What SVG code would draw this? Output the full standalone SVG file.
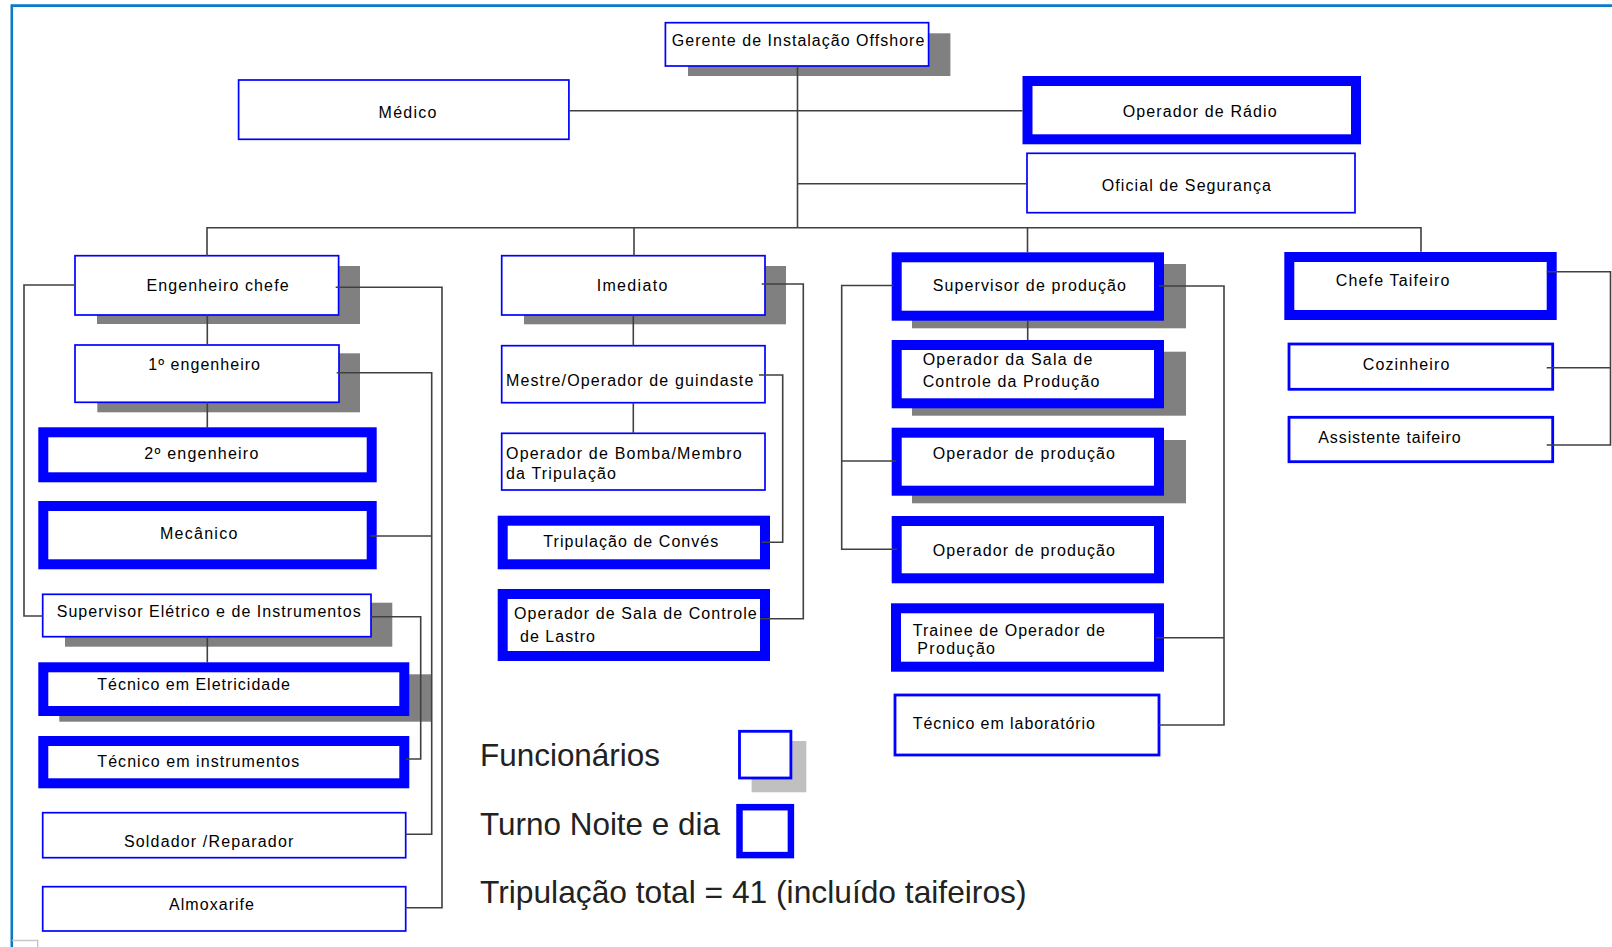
<svg xmlns="http://www.w3.org/2000/svg" width="1612" height="947" viewBox="0 0 1612 947">
<style>
.bg{fill:#ffffff}
.frame{fill:none;stroke:#0a7bc6;stroke-width:2.6}
.thin{fill:#ffffff;stroke:#0000ff;stroke-width:1.7}
.mid{fill:#ffffff;stroke:#0000ff;stroke-width:2.8}
.thick{fill:#ffffff;stroke:#0000ff;stroke-width:10}
.shadow{fill:#808080}
.lshadow{fill:#c0c0c0}
.lbl{font-family:"Liberation Sans",Arial,sans-serif;font-size:16px;fill:#000000}
.leg{font-family:"Liberation Sans",Arial,sans-serif;font-size:31.5px;fill:#222222}
.conn{fill:none;stroke:#404040;stroke-width:1.6}
</style>
<rect class="bg" x="0" y="0" width="1612" height="947"/>
<path class="frame" d="M11.8,947 V5.6 H1612"/>
<path d="M12,940.5 H37.7 V947" fill="none" stroke="#c8c8c8" stroke-width="1.5"/>

<g id="gerente">
<rect class="shadow" x="688" y="33.3" width="262.4" height="42.7"/>
<rect class="thin" x="665.4" y="22.7" width="263.2" height="43.3"/>
<text class="lbl" x="671.8" y="45.5" textLength="252.5" lengthAdjust="spacing">Gerente de Instalação Offshore</text>
</g>
<g id="medico">
<rect class="thin" x="238.6" y="80" width="330.3" height="59.3"/>
<text class="lbl" x="378.6" y="117.5" textLength="57.8" lengthAdjust="spacing">Médico</text>
</g>
<g id="operador-radio">
<rect class="thick" x="1027.5" y="81" width="328.5" height="58.3"/>
<text class="lbl" x="1122.7" y="117.2" textLength="154" lengthAdjust="spacing">Operador de Rádio</text>
</g>
<g id="oficial-seguranca">
<rect class="thin" x="1027" y="153.3" width="328" height="59.4"/>
<text class="lbl" x="1101.7" y="190.5" textLength="169.3" lengthAdjust="spacing">Oficial de Segurança</text>
</g>

<g id="engenheiro-chefe">
<rect class="shadow" x="97" y="266" width="263" height="58"/>
<rect class="thin" x="75" y="255.7" width="263.6" height="59.3"/>
<text class="lbl" x="146.4" y="290.5" textLength="142.2" lengthAdjust="spacing">Engenheiro chefe</text>
</g>
<g id="primeiro-engenheiro">
<rect class="shadow" x="97.3" y="353.3" width="262.7" height="59"/>
<rect class="thin" x="75" y="345" width="264" height="57.3"/>
<text class="lbl" x="148.3" y="369.5" textLength="111.7" lengthAdjust="spacing">1º engenheiro</text>
</g>
<g id="segundo-engenheiro">
<rect class="thick" x="43.3" y="432.3" width="328.4" height="45"/>
<text class="lbl" x="144.3" y="458.8" textLength="114" lengthAdjust="spacing">2º engenheiro</text>
</g>
<g id="mecanico">
<rect class="thick" x="43.3" y="506" width="328.4" height="58.3"/>
<text class="lbl" x="160" y="538.8" textLength="77.3" lengthAdjust="spacing">Mecânico</text>
</g>
<g id="supervisor-eletrico">
<rect class="shadow" x="65" y="602.7" width="327.3" height="44"/>
<rect class="thin" x="42.7" y="594.3" width="328.3" height="42.4"/>
<text class="lbl" x="56.7" y="616.5" textLength="304" lengthAdjust="spacing">Supervisor Elétrico e de Instrumentos</text>
</g>
<g id="tecnico-eletricidade">
<rect class="shadow" x="59.3" y="674.3" width="372.4" height="47.4"/>
<rect class="thick" x="43.3" y="667.3" width="361" height="43.7"/>
<text class="lbl" x="97.3" y="689.8" textLength="192.7" lengthAdjust="spacing">Técnico em Eletricidade</text>
</g>
<g id="tecnico-instrumentos">
<rect class="thick" x="43.3" y="741" width="361" height="42.3"/>
<text class="lbl" x="97.3" y="767.2" textLength="202" lengthAdjust="spacing">Técnico em instrumentos</text>
</g>
<g id="soldador">
<rect class="thin" x="42.7" y="812.7" width="363" height="45"/>
<text class="lbl" x="124" y="847.2" textLength="169.3" lengthAdjust="spacing">Soldador /Reparador</text>
</g>
<g id="almoxarife">
<rect class="thin" x="42.7" y="886.7" width="363" height="44.3"/>
<text class="lbl" x="169" y="909.8" textLength="85" lengthAdjust="spacing">Almoxarife</text>
</g>

<g id="imediato">
<rect class="shadow" x="524" y="266" width="262" height="58.3"/>
<rect class="thin" x="501.7" y="255.7" width="263.3" height="59.3"/>
<text class="lbl" x="596.7" y="290.5" textLength="70.6" lengthAdjust="spacing">Imediato</text>
</g>
<g id="mestre-guindaste">
<rect class="thin" x="501.7" y="345.7" width="263.3" height="57"/>
<text class="lbl" x="506" y="385.5" textLength="247.3" lengthAdjust="spacing">Mestre/Operador de guindaste</text>
</g>
<g id="operador-bomba">
<rect class="thin" x="501.7" y="433.3" width="263.3" height="56.7"/>
<text class="lbl" x="506" y="458.8" textLength="235.7" lengthAdjust="spacing">Operador de Bomba/Membro</text>
<text class="lbl" x="506" y="478.8" textLength="110" lengthAdjust="spacing">da Tripulação</text>
</g>
<g id="tripulacao-conves">
<rect class="thick" x="502.7" y="520.7" width="262.3" height="43.6"/>
<text class="lbl" x="543.3" y="547.2" textLength="175" lengthAdjust="spacing">Tripulação de Convés</text>
</g>
<g id="operador-lastro">
<rect class="thick" x="502.7" y="594" width="262.3" height="62"/>
<text class="lbl" x="514" y="618.8" textLength="242.7" lengthAdjust="spacing">Operador de Sala de Controle</text>
<text class="lbl" x="520" y="642.2" textLength="75" lengthAdjust="spacing">de Lastro</text>
</g>

<g id="supervisor-producao">
<rect class="shadow" x="912" y="264" width="274" height="64.3"/>
<rect class="thick" x="896.7" y="257.3" width="262.3" height="58.4"/>
<text class="lbl" x="932.7" y="290.5" textLength="193.3" lengthAdjust="spacing">Supervisor de produção</text>
</g>
<g id="operador-sala-producao">
<rect class="shadow" x="912" y="351.7" width="274" height="64"/>
<rect class="thick" x="896.7" y="345" width="262.3" height="58.3"/>
<text class="lbl" x="922.7" y="364.5" textLength="169.6" lengthAdjust="spacing">Operador da Sala de</text>
<text class="lbl" x="922.7" y="387.2" textLength="176.6" lengthAdjust="spacing">Controle da Produção</text>
</g>
<g id="operador-producao-1">
<rect class="shadow" x="912" y="440" width="274" height="63.3"/>
<rect class="thick" x="896.7" y="432.7" width="262.3" height="58"/>
<text class="lbl" x="932.7" y="458.8" textLength="182.3" lengthAdjust="spacing">Operador de produção</text>
</g>
<g id="operador-producao-2">
<rect class="thick" x="896.7" y="521" width="262.3" height="57.3"/>
<text class="lbl" x="932.7" y="555.5" textLength="182.3" lengthAdjust="spacing">Operador de produção</text>
</g>
<g id="trainee">
<rect class="thick" x="896" y="608.3" width="263" height="58.4"/>
<text class="lbl" x="912.7" y="636.2" textLength="192.3" lengthAdjust="spacing">Trainee de Operador de</text>
<text class="lbl" x="917.3" y="653.8" textLength="77.7" lengthAdjust="spacing">Produção</text>
</g>
<g id="tecnico-laboratorio">
<rect class="mid" x="895" y="695" width="264" height="60"/>
<text class="lbl" x="912.7" y="728.8" textLength="182.3" lengthAdjust="spacing">Técnico em laboratório</text>
</g>

<g id="chefe-taifeiro">
<rect class="thick" x="1289.3" y="257" width="262.4" height="58"/>
<text class="lbl" x="1335.7" y="285.5" textLength="113.6" lengthAdjust="spacing">Chefe Taifeiro</text>
</g>
<g id="cozinheiro">
<rect class="mid" x="1289" y="344" width="263.7" height="45.3"/>
<text class="lbl" x="1362.7" y="369.5" textLength="86.6" lengthAdjust="spacing">Cozinheiro</text>
</g>
<g id="assistente-taifeiro">
<rect class="mid" x="1289" y="417.3" width="263.7" height="44.4"/>
<text class="lbl" x="1318.3" y="442.8" textLength="142.4" lengthAdjust="spacing">Assistente taifeiro</text>
</g>

<g id="legenda">
<text class="leg" x="480" y="766" textLength="180" lengthAdjust="spacingAndGlyphs">Funcionários</text>
<rect class="lshadow" x="751.6" y="741" width="54.7" height="51.3"/>
<rect class="mid" x="739.5" y="731.3" width="51.4" height="46.7"/>
<text class="leg" x="480" y="835" textLength="240" lengthAdjust="spacingAndGlyphs">Turno Noite e dia</text>
<rect fill="#ffffff" stroke="#0000ff" stroke-width="6.5" x="739.5" y="807.2" width="51.4" height="47.9"/>
<text class="leg" x="480" y="902.7" textLength="546.5" lengthAdjust="spacingAndGlyphs">Tripulação total = 41 (incluído taifeiros)</text>
</g>

<g id="connectors">
<path class="conn" d="M797.5,66 V227.7"/>
<path class="conn" d="M568.9,110.7 H1022.5"/>
<path class="conn" d="M797.5,183.7 H1027"/>
<path class="conn" d="M207,255.7 V227.7 H1421 V251.7"/>
<path class="conn" d="M634,227.7 V255.7"/>
<path class="conn" d="M1027.5,227.7 V252.3"/>
<path class="conn" d="M207.3,315 V345"/>
<path class="conn" d="M207.3,402.3 V428"/>
<path class="conn" d="M75,285 H24 V616 H42.7"/>
<path class="conn" d="M335.7,287.3 H442 V907.7 H405.7"/>
<path class="conn" d="M336.7,372.7 H431.7 V834.3 H405.7"/>
<path class="conn" d="M370,536 H431.7"/>
<path class="conn" d="M371,616.7 H420.7 V759 H406"/>
<path class="conn" d="M207.3,636.7 V662.5"/>
<path class="conn" d="M633.3,315 V345.7"/>
<path class="conn" d="M633.3,402.7 V433.3"/>
<path class="conn" d="M761.7,284 H803.3 V618.7 H760"/>
<path class="conn" d="M759,375 H782.7 V542.3 H761.7"/>
<path class="conn" d="M893.3,285.5 H841.7 V549.3 H897"/>
<path class="conn" d="M841.7,461 H896"/>
<path class="conn" d="M1159,286 H1224 V725 H1159"/>
<path class="conn" d="M1156,637.7 H1224"/>
<path class="conn" d="M1027.7,320.7 V340"/>
<path class="conn" d="M1546.7,271.7 H1610.5 V445 H1546.7"/>
<path class="conn" d="M1546.7,367.7 H1610.5"/>
</g>
</svg>
